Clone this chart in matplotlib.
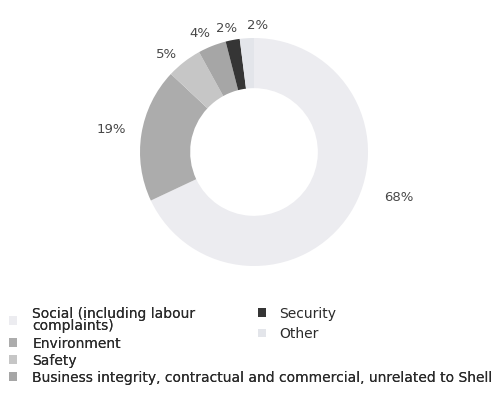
import numpy as np
import matplotlib.pyplot as plt
from matplotlib.patches import Patch

categories = ['Social (including labour\ncomplaints)', 'Environment', 'Safety',
              'Business integrity, contractual and commercial, unrelated to Shell',
              'Security', 'Other']
values = [68, 19, 5, 4, 2, 2]
pct_labels = ['68%', '19%', '5%', '4%', '2%', '2%']
colors = ['#ececf0', '#acacac', '#c6c6c6', '#a6a6a6', '#353535', '#e3e5ea']

W, H = 496, 398
fig = plt.figure(figsize=(W / 100, H / 100), dpi=100)

# donut centre (254, 152) px, outer radius 114 px
cx, cy, r = 254, 152, 114
ax = fig.add_axes([(cx - r) / W, (H - cy - r) / H, 2 * r / W, 2 * r / H])
wedges, _ = ax.pie(values, colors=colors, startangle=90, counterclock=False,
                   radius=1, wedgeprops=dict(width=0.44, linewidth=0))
ax.set_xlim(-1, 1)
ax.set_ylim(-1, 1)
ax.set_aspect('equal')
ax.axis('off')

# percentage labels around the ring (distance, angular nudge in degrees)
label_dist = [1.33, 1.27, 1.15, 1.14, 1.11, 1.11]
angle_nudge = [15, 0, 4, 3, 1.5, -5.4]
for w, lab, d, s in zip(wedges, pct_labels, label_dist, angle_nudge):
    mid = np.deg2rad((w.theta1 + w.theta2) / 2 + s)
    ax.text(d * np.cos(mid), d * np.sin(mid), lab, ha='center', va='center',
            fontsize=9.5, color='#484848', clip_on=False)

h = [Patch(facecolor=c, edgecolor='none') for c in colors]
leg1 = fig.legend(h[:4], categories[:4], loc='upper left',
                  bbox_to_anchor=(3 / W, 1 - 301 / H), frameon=False,
                  fontsize=10, handlelength=0.6, handleheight=0.6,
                  handletextpad=1.1, labelspacing=0.22, borderaxespad=0,
                  labelcolor='#2a2a2a')
for t in leg1.get_texts():
    t.set_linespacing(0.9)
fig.add_artist(leg1)
fig.legend(h[4:], categories[4:], loc='upper left',
           bbox_to_anchor=(252 / W, 1 - 301 / H), frameon=False,
           fontsize=10, handlelength=0.6, handleheight=0.6,
           handletextpad=0.95, labelspacing=0.45, borderaxespad=0,
           labelcolor='#2a2a2a')

fig.savefig('out.png', dpi=100)
